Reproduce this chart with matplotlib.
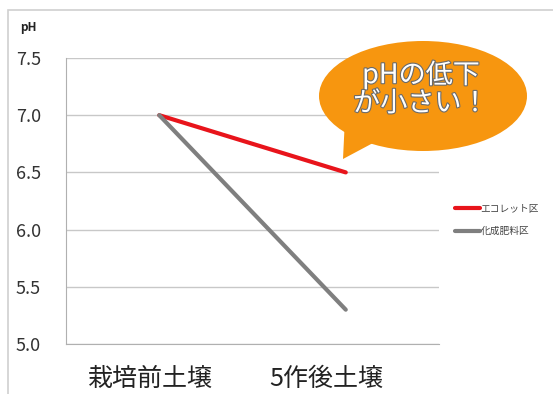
import matplotlib
matplotlib.use("Agg")
import matplotlib.pyplot as plt
from matplotlib.patches import Ellipse, Polygon, Rectangle
from matplotlib.transforms import ScaledTranslation
import matplotlib.patheffects as pe

plt.rcParams['font.family'] = ['Noto Sans CJK JP', 'DejaVu Sans']

categories = ["栽培前土壌", "5作後土壌"]
ecolet = [7.0, 6.5]
chemical = [7.0, 5.3]
series_names = ["エコレット区", "化成肥料区"]
y_ticks = [5.0, 5.5, 6.0, 6.5, 7.0, 7.5]
callout = "pHの低下\nが小さい！"

W, H = 553, 394
fig = plt.figure(figsize=(W / 100, H / 100), dpi=100)
ax = fig.add_axes([66 / W, 1 - 344 / H, (439 - 66) / W, (344 - 58) / H])

# outer frame of the chart area
fig.patches.append(Rectangle((8 / W, -0.1), 1.2, (H - 10) / H + 0.1,
                             transform=fig.transFigure, fill=False,
                             edgecolor="#d0d0d0", linewidth=1.2))

x = range(len(categories))
ax.plot(x, ecolet, color="#e8141b", linewidth=3, label=series_names[0],
        solid_capstyle="round", zorder=3)
ax.plot(x, chemical, color="#7f7f7f", linewidth=3, label=series_names[1],
        solid_capstyle="round", zorder=3)

ax.set_xlim(-0.5, 1.5)
ax.set_ylim(5.0, 7.5)
ax.set_yticks(y_ticks)
ax.set_yticklabels([f"{v:.1f}" for v in y_ticks], fontsize=13, color="#333333")
ax.set_xticks(list(x))
ax.set_xticklabels(categories, fontsize=18, color="#222222")
ax.tick_params(axis="both", length=0)
ax.tick_params(axis="y", pad=18)
ax.tick_params(axis="x", pad=16)
# labels sit a bit left of the points in the original
for lbl, dx in zip(ax.get_xticklabels(), [-9, -19]):
    lbl.set_transform(lbl.get_transform() + ScaledTranslation(dx / 100, 0, fig.dpi_scale_trans))
ax.grid(axis="y", color="#c8c8c8", linewidth=1)
ax.set_axisbelow(True)
for side in ["top", "right"]:
    ax.spines[side].set_visible(False)
for side in ["left", "bottom"]:
    ax.spines[side].set_color("#b0b0b0")

fig.text(20 / W, 1 - 27 / H, "pH", fontsize=8.5, fontweight="bold",
         va="center", ha="left", color="#222222")

ax.legend(loc="center left", bbox_to_anchor=(446 / W, 1 - 220 / H),
          bbox_transform=fig.transFigure, frameon=False, fontsize=7,
          handlelength=2.6, handletextpad=0.05, labelspacing=1.3,
          labelcolor="#444444")

# speech bubble (axes fraction coords)
def px(xp, yp):
    return ((xp - 66) / (439 - 66), (344 - yp) / (344 - 58))

orange = "#f7960f"
cx, cy = px(423, 96)
ell = Ellipse((cx, cy), 208 / (439 - 66), 110 / (344 - 58),
              transform=ax.transAxes, facecolor=orange, edgecolor="none",
              clip_on=False, zorder=5)
ax.add_patch(ell)
tail = Polygon([px(345, 118), px(343, 159), px(388, 135)],
               closed=True, transform=ax.transAxes, facecolor=orange,
               edgecolor="none", clip_on=False, zorder=5)
ax.add_patch(tail)
tx, ty = px(421, 89)
ax.text(tx, ty, callout, transform=ax.transAxes, ha="center",
        va="center", fontsize=19.5, color="white", linespacing=1.05,
        zorder=6, path_effects=[pe.withStroke(linewidth=1.6, foreground="#6b6b6b")])

fig.savefig("out.png", dpi=100)
